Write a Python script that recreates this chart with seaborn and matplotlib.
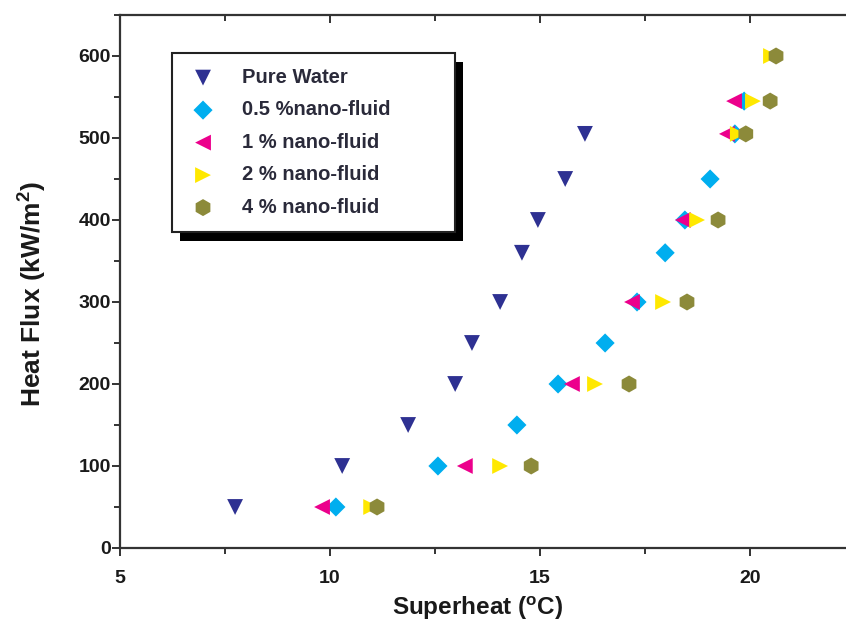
import matplotlib
matplotlib.use("Agg")
import matplotlib.pyplot as plt
from matplotlib.patches import Rectangle
from matplotlib.ticker import MultipleLocator
import seaborn as sns
import pandas as pd

sns.set_theme(style="white")
plt.rcParams['font.family'] = ['Liberation Sans', 'DejaVu Sans']
plt.rcParams['font.weight'] = 'bold'
plt.rcParams['mathtext.default'] = 'regular'

# ---- data ----
pw_x = [7.74, 10.29, 11.86, 12.98, 13.38, 14.05, 14.57, 14.95, 15.60, 16.07]
pw_y = [50, 100, 150, 200, 250, 300, 360, 400, 450, 505]

n05_x = [10.14, 12.57, 14.45, 15.43, 16.55, 17.31, 17.98, 18.45, 19.05, 19.64, 19.86]
n05_y = [50, 100, 150, 200, 250, 300, 360, 400, 450, 505, 545]

n1_x = [9.81, 13.21, 15.76, 17.19, 18.40, 19.45, 19.62]
n1_y = [50, 100, 200, 300, 400, 505, 545]

n2_x = [10.98, 14.05, 16.31, 17.93, 18.74, 19.71, 20.07, 20.50]
n2_y = [50, 100, 200, 300, 400, 505, 545, 600]

n4_x = [11.12, 14.79, 17.12, 18.50, 19.24, 19.90, 20.48, 20.62]
n4_y = [50, 100, 200, 300, 400, 505, 545, 600]

labels = ["Pure Water", "0.5 %nano-fluid", "1 % nano-fluid", "2 % nano-fluid", "4 % nano-fluid"]
colors = ["#2E3192", "#00AEEF", "#EC008C", "#FFE800", "#8C8A3A"]
markers = ["v", "D", "<", ">", "h"]
sizes = [130, 95, 130, 130, 150]

xs = [pw_x, n05_x, n1_x, n2_x, n4_x]
ys = [pw_y, n05_y, n1_y, n2_y, n4_y]

W, H = 846, 634
fig = plt.figure(figsize=(W / 100, H / 100), dpi=100)
ax_l, ax_r, ax_t, ax_b = 120, 855, 15, 548
ax = fig.add_axes([ax_l / W, (H - ax_b) / H, (ax_r - ax_l) / W, (ax_b - ax_t) / H])
aw, ah = ax_r - ax_l, ax_b - ax_t

for lab, c, m, s, x, y in zip(labels, colors, markers, sizes, xs, ys):
    df = pd.DataFrame({"Superheat": x, "Heat Flux": y})
    sns.scatterplot(data=df, x="Superheat", y="Heat Flux", ax=ax, color=c,
                    marker=m, s=s, edgecolor="none", linewidth=0, label=lab)

ax.set_xlim(5, 22.5)
ax.set_ylim(0, 650)
ax.xaxis.set_major_locator(MultipleLocator(5))
ax.xaxis.set_minor_locator(MultipleLocator(2.5))
ax.yaxis.set_major_locator(MultipleLocator(100))
ax.yaxis.set_minor_locator(MultipleLocator(50))

for sp in ax.spines.values():
    sp.set_color("#333333")
    sp.set_linewidth(1.6)

ax.tick_params(which="both", bottom=True, left=True, top=True, right=True,
               color="#333333", width=1.4, direction="out")
ax.tick_params(axis="both", which="major", length=6, labelsize=14,
               labelcolor="#1a1a1a")
ax.tick_params(axis="both", which="minor", length=4)
ax.tick_params(axis="x", which="major", pad=10)
ax.tick_params(axis="y", which="major", pad=0.5)
for t in ax.xaxis.get_major_ticks() + ax.xaxis.get_minor_ticks():
    t.tick2line.set_marker(3)  # inward ticks on top
for t in ax.yaxis.get_major_ticks() + ax.yaxis.get_minor_ticks():
    t.tick2line.set_marker(0)

ax.set_xlabel("Superheat ($^{o}$C)", fontsize=17.5, fontweight="bold", color="#1a1a1a")
ax.set_ylabel("Heat Flux (kW/m$^{2}$)", fontsize=19, fontweight="bold", color="#1a1a1a")
ax.xaxis.set_label_coords((478 - ax_l) / aw, (ax_b - 595) / ah)
ax.yaxis.set_label_coords((49 - ax_l) / aw, (ax_b - 294) / ah)
for lbl in ax.get_xticklabels() + ax.get_yticklabels():
    lbl.set_fontweight("bold")

# legend box in pixel coords: left 172, right 455, top 53
lx0, lx1, ly0, ly1 = 172, 455, 53, 230
anchor = ((lx0 - ax_l) / aw, (ax_b - ly1) / ah, (lx1 - lx0) / aw, (ly1 - ly0) / ah)
leg = ax.legend(loc="upper left", bbox_to_anchor=anchor, mode="expand",
                borderaxespad=0, frameon=True, fancybox=False, framealpha=1,
                edgecolor="#222222", prop={"weight": "bold", "size": 14.5},
                handletextpad=1.15, labelspacing=0.67, borderpad=0.74,
                handlelength=1.6, markerscale=1.0)
leg.get_frame().set_linewidth(1.5)
for txt in leg.get_texts():
    txt.set_color("#2a2a3a")

fig.canvas.draw()
bb = leg.get_window_extent().transformed(fig.transFigure.inverted())
dx, dy = 8 / W, 9 / H
shadow = Rectangle((bb.x0 + dx, bb.y0 - dy), bb.width, bb.height,
                   transform=fig.transFigure, facecolor="black", edgecolor="none",
                   zorder=leg.get_zorder() - 0.1)
ax.add_artist(shadow)

fig.savefig("out.png", dpi=100)
